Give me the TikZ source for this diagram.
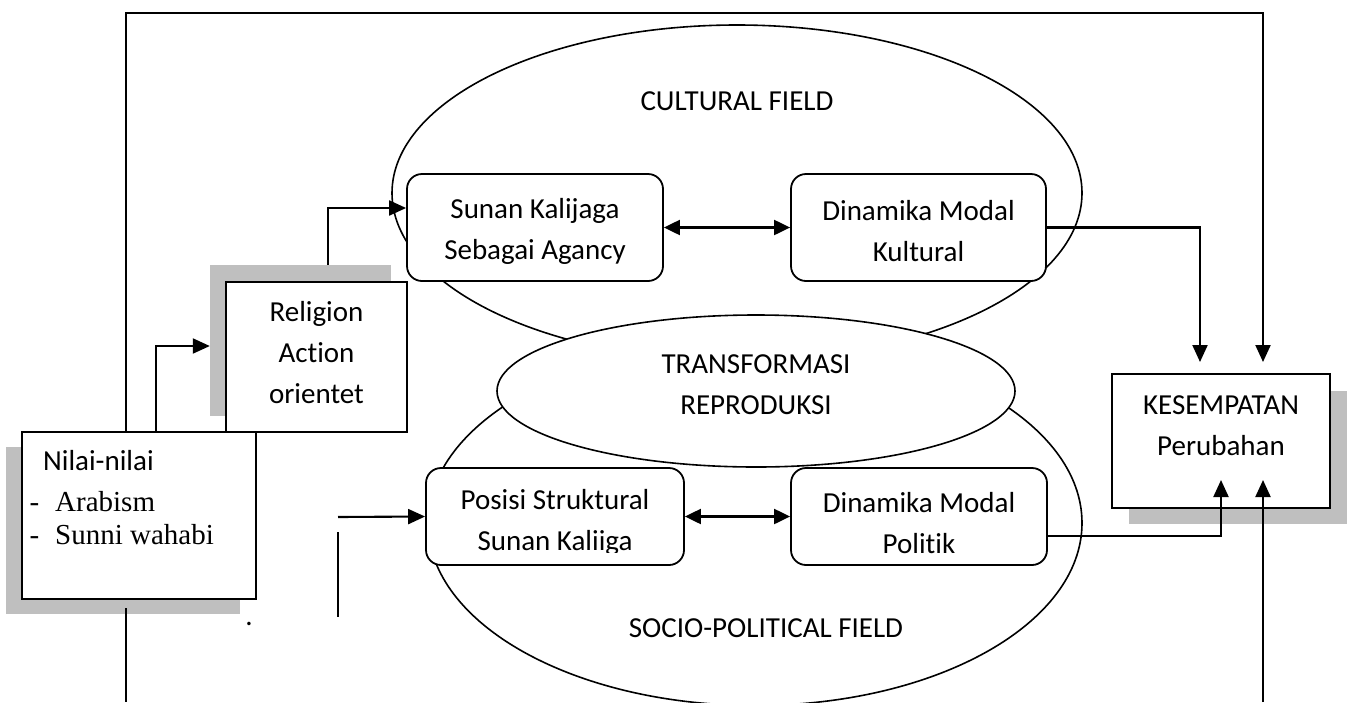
\documentclass[tikz,border=0pt]{standalone}
\usepackage{fontspec}
\setmainfont{Carlito}[Ligatures=NoCommon]
\newfontfamily\timesf{Liberation Serif}
\usetikzlibrary{arrows.meta,shapes.geometric}
\definecolor{shadowgray}{RGB}{191,191,191}
\begin{document}
\begin{tikzpicture}[x=1pt,y=-1pt,
  txt/.style={font=\fontsize{29}{41}\selectfont, align=center, inner sep=0pt},
  box/.style={draw, fill=white, line width=2pt, inner sep=0pt},
  rbox/.style={box, rounded corners=15pt, line width=1.8pt},
  shadowbox/.style={fill=shadowgray, inner sep=0pt},
  field/.style={draw, ellipse, line width=1.6pt, inner sep=0pt},
  conn/.style={line width=2.1pt},
  arr/.style={conn, -{Triangle[length=17pt,width=15pt]}},
  darr/.style={conn, {Triangle[length=16pt,width=15pt]}-{Triangle[length=16pt,width=15pt]}}]

\useasboundingbox (0,0) rectangle (1352,702);

% fields
\node[field, minimum width=690pt, minimum height=336pt] (cultural) at (737,193) {};
\node[field, minimum width=654pt, minimum height=365pt] (socio) at (755,523) {};
\node[field, fill=white, minimum width=518pt, minimum height=152pt] (transf) at (756,391) {};
\node[txt] (transftext) at (756,385) {TRANSFORMASI\\REPRODUKSI};
\node[txt] (cultext) at (737,101) {CULTURAL FIELD};
\node[txt] (sociotext) at (766,628) {SOCIO-POLITICAL FIELD};

% rounded boxes
\node[rbox, minimum width=256pt, minimum height=107pt] (sunan) at (535,227.5) {};
\node[txt] (sunantext) at (535,231) {Sunan Kalijaga\\Sebagai Agancy};
\node[rbox, minimum width=255pt, minimum height=107pt] (kultural) at (918.5,227.5) {};
\node[txt] (kulturaltext) at (918.5,231) {Dinamika Modal\\Kultural};
\node[rbox, minimum width=258pt, minimum height=97pt] (posisi) at (555,516.5) {};
\node[rbox, minimum width=256pt, minimum height=97pt] (politik) at (919,516.5) {};
\begin{scope}
  \clip (426,468) rectangle (684,552);
  \node[txt] (posisitext) at (555,522.5) {Posisi Struktural\\Sunan Kaliiga};
\end{scope}
\node[txt] (politiktext) at (919,523.5) {Dinamika Modal\\Politik};

% religion box
\node[shadowbox, minimum width=181pt, minimum height=151pt] (relshadow) at (300.5,340.5) {};
\node[box, minimum width=181pt, minimum height=150pt] (religion) at (316.5,357) {};
\node[txt] (religiontext) at (316.5,353) {Religion\\Action\\orientet};

% nilai box
\node[shadowbox, minimum width=234pt, minimum height=167pt] (nilaishadow) at (123,530.5) {};
\node[box, minimum width=234pt, minimum height=167pt] (nilai) at (139,515.5) {};
\node[txt, anchor=west] (nilaititle) at (43,461) {Nilai-nilai};
\node[txt, anchor=west, font=\timesf\fontsize{29}{33}\selectfont] (arab) at (29.5,502) {\makebox[25.5pt][l]{-}Arabism};
\node[txt, anchor=west, font=\timesf\fontsize{29}{33}\selectfont] (sunni) at (29.5,535) {\makebox[25.5pt][l]{-}Sunni wahabi};

% kesempatan box
\node[shadowbox, minimum width=218pt, minimum height=133pt] (kesshadow) at (1238,457.5) {};
\node[box, minimum width=218pt, minimum height=134pt] (kes) at (1221,441) {};
\node[txt] (kestext) at (1221,426) {KESEMPATAN\\Perubahan};

% coordinates
\coordinate (xL) at (126,0);
\coordinate (xR) at (1263,0);
\coordinate (topY) at (0,13);
\coordinate (botL) at (126,702);
\coordinate (botR) at (1263,702);
\coordinate (kesIn1) at (1221,480);
\coordinate (kesIn2) at (1263,480);
\coordinate (leftIn) at (338,517);
\coordinate (vl1) at (338,532);
\coordinate (vl2) at (338,617);

% connectors
\draw[arr, shorten >=11pt] (nilai.north -| xL) -- (xL |- topY) -- (xR |- topY) -- (kes.north -| xR);
\draw[conn, shorten <=8pt] (nilai.south -| xL) -- (botL);
\draw[arr] (botR) -- (kesIn2);
\draw[arr] ([yshift=-19.5pt]politik.east) -| (kesIn1);
\draw[arr, shorten >=11pt] (kultural.east) -| ([xshift=-21pt]kes.north);
\draw[darr] (sunan.east) -- (kultural.west);
\draw[darr] (posisi.east) -- (politik.west);
\draw[arr] ([xshift=17pt]nilai.north) |- ([yshift=-5.5pt]relshadow.west);
\draw[arr] ([xshift=27.5pt]relshadow.north) |- ([yshift=19.5pt]sunan.west);
\draw[arr] (leftIn) -- (posisi.west);
\draw[conn] (vl1) -- (vl2);
\node[txt, anchor=base] (dot) at (249,625) {.};
\end{tikzpicture}
\end{document}
